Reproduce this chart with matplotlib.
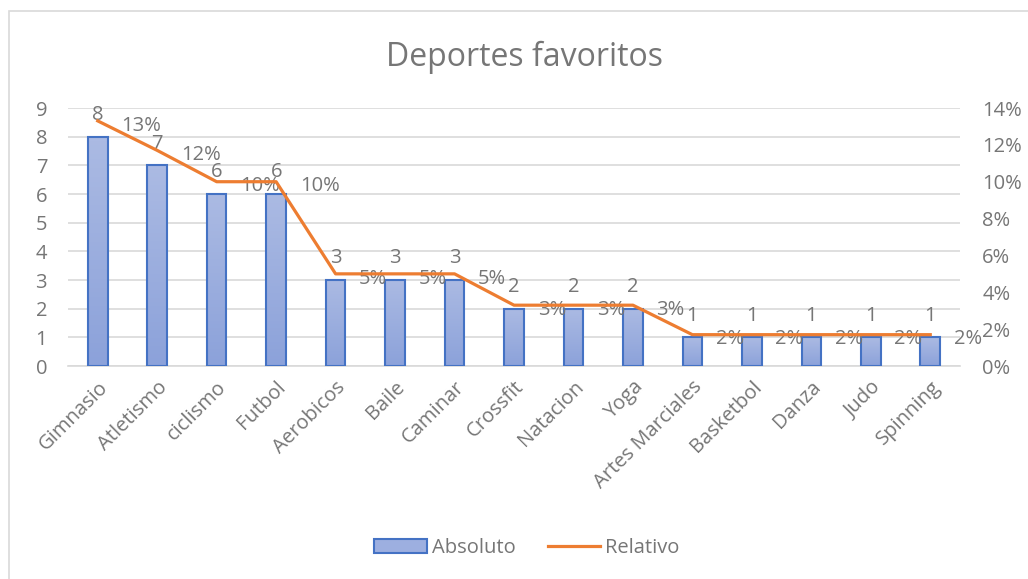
import numpy as np
import matplotlib
matplotlib.use("Agg")
import matplotlib.pyplot as plt
from matplotlib.patches import Rectangle, Patch
from matplotlib.lines import Line2D
from matplotlib.ticker import PercentFormatter

deportes = ["Gimnasio", "Atletismo", "ciclismo", "Futbol", "Aerobicos", "Baile", "Caminar",
            "Crossfit", "Natacion", "Yoga", "Artes Marciales", "Basketbol", "Danza", "Judo", "Spinning"]
absoluto = [8, 7, 6, 6, 3, 3, 3, 2, 2, 2, 1, 1, 1, 1, 1]
relativo = [0.133, 0.117, 0.100, 0.100, 0.050, 0.050, 0.050, 0.033, 0.033, 0.033,
            0.017, 0.017, 0.017, 0.017, 0.017]

gris = "#767676"
fs = 14.5
plt.rcParams['font.family'] = ['Open Sans', 'DejaVu Sans']

fig = plt.figure(figsize=(10.28, 5.79), dpi=100)
ax = fig.add_axes([68 / 1028, 1 - 366 / 579, 892 / 1028, 258 / 579])
ax2 = ax.twinx()

x = np.arange(len(deportes))
ancho = 0.33

# barras con degradado
grad = np.linspace(0, 1, 50).reshape(-1, 1)
cmap = matplotlib.colors.LinearSegmentedColormap.from_list("g", ["#8CA2DA", "#ABBAE3"])
for xi, v in zip(x, absoluto):
    r = Rectangle((xi - ancho / 2, 0), ancho, v, facecolor="none", edgecolor="#4472C4", lw=1.5, zorder=3)
    ax.add_patch(r)
    im = ax.imshow(grad, extent=(xi - ancho / 2, xi + ancho / 2, 0, v), origin="lower",
                   cmap=cmap, aspect="auto", zorder=2)
    im.set_clip_path(r)
    ax.annotate(str(v), (xi, v), xytext=(0, 12), textcoords="offset points",
                ha="center", va="baseline", fontsize=fs, color=gris, zorder=5)
ax.set_xlim(-0.5, len(deportes) - 0.5)
ax.set_ylim(0, 9)
ax2.set_ylim(0, 0.14)

ax2.plot(x, relativo, color="#ED7D31", lw=2.3, zorder=4)
for xi, v in zip(x, relativo):
    ax2.annotate(f"{v:.0%}", (xi, v), xytext=(17, -7), textcoords="offset points",
                 ha="left", va="baseline", fontsize=fs, color=gris, annotation_clip=False)

ax.set_yticks(range(0, 10))
ax2.set_yticks(np.arange(0, 0.15, 0.02))
ax2.yaxis.set_major_formatter(PercentFormatter(1, decimals=0))
ax.set_xticks(x)
ax.set_xticklabels(deportes, rotation=45, ha="right", rotation_mode="anchor")

ax.grid(axis="y", color="#D9D9D9", lw=1.2)
ax.set_axisbelow(True)
for a in (ax, ax2):
    for s in a.spines.values():
        s.set_visible(False)
    a.tick_params(length=0, labelsize=fs, labelcolor=gris)
ax.spines["bottom"].set_visible(True)
ax.spines["bottom"].set_color("#D9D9D9")
ax.spines["bottom"].set_linewidth(1.2)
ax.tick_params(axis="y", pad=15)
ax.tick_params(axis="x", pad=8)
ax2.tick_params(axis="y", pad=16)

fig.text(525 / 1028, 1 - 66 / 579, "Deportes favoritos", ha="center", va="baseline", fontsize=23, color=gris)

handles = [Patch(facecolor="#9DAFE0", edgecolor="#4472C4", lw=1.5),
           Line2D([0], [0], color="#ED7D31", lw=2.3)]
fig.legend(handles, ["Absoluto", "Relativo"], loc="center", bbox_to_anchor=(527 / 1028, 1 - 548 / 579),
           ncol=2, frameon=False, fontsize=fs, labelcolor=gris, handlelength=2.6,
           handletextpad=0.25, columnspacing=1.6, handleheight=0.7)

# borde del grafico
fig.add_artist(Rectangle((8.5 / 1028, -0.1), 1.2, (579 - 10.5) / 579 + 0.1, transform=fig.transFigure,
                         facecolor="none", edgecolor="#D9D9D9", lw=1.2))

fig.savefig("out.png", dpi=100)
